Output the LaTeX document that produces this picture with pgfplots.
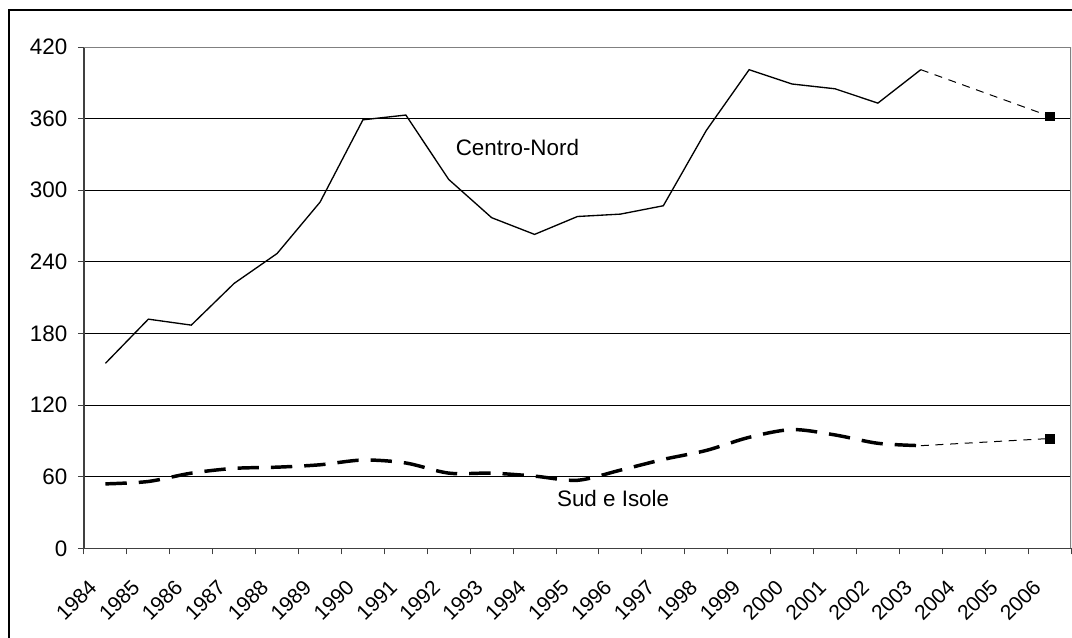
\documentclass[border=0pt]{standalone}
\usepackage{pgfplots}
\pgfplotsset{compat=1.18}
\usepackage{fontspec}
\setmainfont{Liberation Sans}
\begin{document}
\begin{tikzpicture}[x=1pt,y=1pt]
\useasboundingbox (0,0) rectangle (804,477.75);
\draw[line width=0.9pt] (6.75,-5) -- (6.75,470.25) -- (810,470.25);
\begin{axis}[
  at={(63pt,66.5pt)}, anchor=south west,
  scale only axis, width=740.25pt, height=376pt,
  xmin=-0.5, xmax=22.5, ymin=0, ymax=420,
  xtick={-0.5,0.5,1.5,2.5,3.5,4.5,5.5,6.5,7.5,8.5,9.5,10.5,11.5,12.5,13.5,14.5,15.5,16.5,17.5,18.5,19.5,20.5,21.5,22.5},
  x tick label as interval,
  xticklabels={1984,1985,1986,1987,1988,1989,1990,1991,1992,1993,1994,1995,1996,1997,1998,1999,2000,2001,2002,2003,2004,2005,2006},
  ytick={0,60,...,420},
  ymajorgrids, major grid style={black, line width=0.75pt},
  tick align=outside, major tick length=4.5pt,
  tick style={black!75, line width=0.75pt},
  axis x line*=bottom, axis y line*=left,
  axis line style={black!75, line width=0.9pt, -},
  xticklabel style={font=\fontsize{15.8}{19}\selectfont, xshift=-9.3pt, yshift=-21.8pt, rotate=45, anchor=east, inner sep=0pt},
  yticklabel style={font=\fontsize{16.8}{20}\selectfont, xshift=-7.8pt, anchor=east, inner sep=0pt},
  /pgf/number format/assume math mode=true,
]
\draw[gray, line width=0.9pt] (rel axis cs:0,1) -- (rel axis cs:1,1) -- (rel axis cs:1,0);
\addplot[black, line width=1pt] coordinates {(0,155)(1,192)(2,187)(3,222)(4,247)(5,290)(6,359)(7,363)(8,309)(9,277)(10,263)(11,278)(12,280)(13,287)(14,350)(15,401)(16,389)(17,385)(18,373)(19,401)};
\addplot[black, line width=0.75pt, dash pattern=on 6pt off 5pt] coordinates {(19,401)(22,362)};
\addplot[only marks, mark=square*, mark size=3.3pt, black] coordinates {(22,362)};
\addplot[black, line width=2.6pt, dash pattern=on 16pt off 9pt, smooth, tension=0.5] coordinates {(0,54)(1,56)(2,63)(3,67)(4,68)(5,70)(6,74)(7,71.5)(8,63)(9,63)(10,60.5)(11,57)(12,65.5)(13,74.5)(14,82)(15,93)(16,99.5)(17,95)(18,88)(19,86)};
\addplot[black, line width=0.75pt, dash pattern=on 6pt off 5pt] coordinates {(19,86)(22,92)};
\addplot[only marks, mark=square*, mark size=3.3pt, black] coordinates {(22,92)};
\node[font=\fontsize{16.8}{19}\selectfont] at (axis cs:9.6,336) {Centro-Nord};
\node[font=\fontsize{16.8}{19}\selectfont] at (axis cs:11.83,42) {Sud e Isole};
\end{axis}
\end{tikzpicture}
\end{document}
